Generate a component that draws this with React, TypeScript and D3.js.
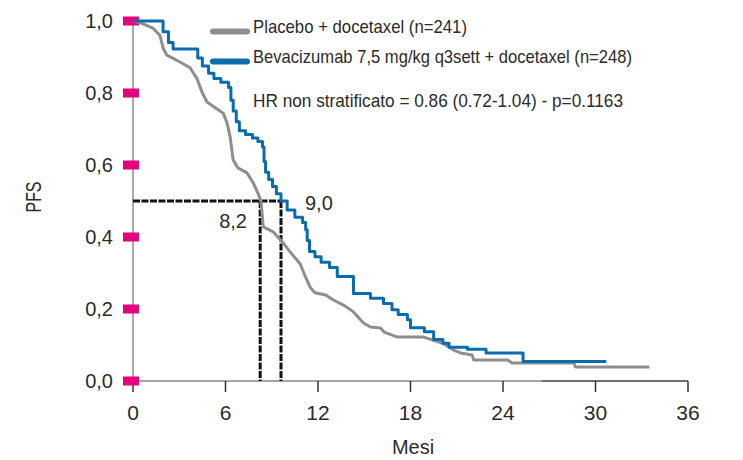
import React from "react";
import * as d3 from "d3";

// ---- data ----
const xTicks = [0, 6, 12, 18, 24, 30, 36];
const yTicks = [0, 0.2, 0.4, 0.6, 0.8, 1.0];

const placeboT = [0, 0.5, 1.3, 1.75, 1.95, 2.2, 3.05, 3.7, 4.15, 4.5, 4.8, 5.85, 6.1, 6.3, 6.5, 6.8, 7.4, 7.8, 8.1, 8.3, 8.45, 9.1, 9.75, 10.2, 10.85, 11.18, 11.5, 11.8, 12.5, 13.0, 13.65, 14.3, 14.95, 15.4, 16.05, 16.3, 17.15, 18.85, 20.1, 20.8, 21.25, 22.0, 22.1, 24.3, 24.6, 28.6, 28.7, 33.5];
const placeboS = [1.0, 0.995, 0.98, 0.96, 0.925, 0.905, 0.886, 0.87, 0.84, 0.8, 0.775, 0.744, 0.717, 0.678, 0.614, 0.592, 0.578, 0.55, 0.522, 0.5, 0.428, 0.414, 0.383, 0.358, 0.325, 0.29, 0.26, 0.245, 0.239, 0.225, 0.211, 0.192, 0.161, 0.15, 0.147, 0.136, 0.122, 0.122, 0.105, 0.086, 0.078, 0.072, 0.058, 0.058, 0.05, 0.05, 0.039, 0.039];

const bevT = [0, 1.95, 2.3, 2.6, 4.2, 4.5, 4.9, 5.25, 5.7, 6.2, 6.35, 6.5, 6.7, 6.9, 7.3, 7.75, 8.1, 8.4, 8.5, 8.6, 8.8, 9.05, 9.3, 9.6, 10.0, 10.5, 11.0, 11.2, 11.3, 11.45, 11.8, 12.2, 12.75, 13.25, 14.3, 15.4, 16.25, 16.8, 17.2, 17.8, 18.0, 18.9, 19.5, 20.1, 20.5, 21.7, 22.9, 25.3, 30.7];
const bevS = [1.0, 0.97, 0.94, 0.922, 0.897, 0.875, 0.855, 0.84, 0.83, 0.815, 0.78, 0.75, 0.72, 0.695, 0.685, 0.675, 0.665, 0.65, 0.61, 0.58, 0.56, 0.54, 0.52, 0.5, 0.475, 0.455, 0.44, 0.42, 0.39, 0.36, 0.345, 0.33, 0.315, 0.29, 0.243, 0.23, 0.215, 0.198, 0.185, 0.17, 0.148, 0.137, 0.115, 0.105, 0.094, 0.088, 0.078, 0.054, 0.054];

const medianT = [8.25, 9.6];
const medianLabels = ["8,2", "9,0"];
const legendLabels = [
  "Placebo + docetaxel (n=241)",
  "Bevacizumab 7,5 mg/kg q3sett + docetaxel (n=248)",
];
const hrText = "HR non stratificato = 0.86 (0.72-1.04) - p=0.1163";

const GREY = "#8e8e8e";
const BLUE = "#0a6dab";
const TEXT = "#2b2b2b";
const FONT = "'Liberation Sans', Arial, sans-serif";

export default function App() {
  const x = d3.scaleLinear().domain([0, 36]).range([133, 688]);
  const y = d3.scaleLinear().domain([0, 1]).range([381, 21]);

  const placebo = placeboT.map((t, i) => [t, placeboS[i]] as [number, number]);
  const bev = bevT.map((t, i) => [t, bevS[i]] as [number, number]);

  const lineLin = d3.line<[number, number]>().x((d) => x(d[0])).y((d) => y(d[1]));
  const lineStep = d3
    .line<[number, number]>()
    .x((d) => x(d[0]))
    .y((d) => y(d[1]))
    .curve(d3.curveStepAfter);

  const fmt = (v: number) => d3.format(".1f")(v).replace(".", ",");

  return (
    <svg
      width={743}
      height={460}
      style={{ position: "absolute", left: 0, top: 0, background: "#fff" }}
      fontFamily={FONT}
    >
      {/* axes */}
      <line x1={x(0)} x2={x(26.5)} y1={y(0)} y2={y(0)} stroke="#a6a6a6" strokeWidth={2} />
      <line x1={x(26.5)} x2={x(36)} y1={y(0)} y2={y(0)} stroke="#6e6e6e" strokeWidth={2} />
      <line x1={x(0)} x2={x(0)} y1={y(1)} y2={y(0)} stroke="#ababab" strokeWidth={2} />

      {xTicks.map((t) => (
        <g key={"xt" + t}>
          <line x1={x(t)} x2={x(t)} y1={y(0)} y2={y(0) + 11} stroke="#333" strokeWidth={1.5} />
          <text x={x(t)} y={420} textAnchor="middle" fontSize={21} fill={TEXT}>
            {t}
          </text>
        </g>
      ))}

      {yTicks.map((v) => (
        <g key={"yt" + v}>
          <rect x={x(0) - 10} y={y(v) - 4.5} width={16} height={9} fill="#e5007d" />
          <text x={113} y={y(v) + 7} textAnchor="end" fontSize={20} fill={TEXT}>
            {fmt(v)}
          </text>
        </g>
      ))}

      <text
        transform={`translate(41,197) rotate(-90)`}
        textAnchor="middle"
        fontSize={22}
        fill={TEXT}
        textLength={31}
        lengthAdjust="spacingAndGlyphs"
      >
        PFS
      </text>
      <text x={413} y={454} textAnchor="middle" fontSize={20} fill={TEXT}>
        Mesi
      </text>

      {/* median guide lines */}
      <line x1={x(0)} x2={x(medianT[1]) + 1} y1={y(0.5)} y2={y(0.5)} stroke="#111" strokeWidth={3} strokeDasharray="7 1.5" />
      {medianT.map((m, i) => (
        <line key={"m" + i} x1={x(m)} x2={x(m)} y1={y(0.5)} y2={y(0)} stroke="#111" strokeWidth={3} strokeDasharray="7 1.5" />
      ))}
      <text x={247} y={228} textAnchor="end" fontSize={20} fill={TEXT}>
        {medianLabels[0]}
      </text>
      <text x={305} y={210} textAnchor="start" fontSize={20} fill={TEXT}>
        {medianLabels[1]}
      </text>

      {/* curves */}
      <path d={lineLin(placebo) || ""} fill="none" stroke={GREY} strokeWidth={3} strokeLinejoin="round" />
      <path d={lineStep(bev) || ""} fill="none" stroke={BLUE} strokeWidth={3} strokeLinejoin="round" />

      {/* legend */}
      <line x1={213} x2={247} y1={31.5} y2={31.5} stroke={GREY} strokeWidth={6} strokeLinecap="round" />
      <line x1={213} x2={247} y1={61.5} y2={61.5} stroke={BLUE} strokeWidth={6} strokeLinecap="round" />
      <text x={253} y={33} fontSize={19} fill={TEXT} textLength={214} lengthAdjust="spacingAndGlyphs">
        {legendLabels[0]}
      </text>
      <text x={253} y={63} fontSize={19} fill={TEXT} textLength={379} lengthAdjust="spacingAndGlyphs">
        {legendLabels[1]}
      </text>
      <text x={253} y={107} fontSize={19} fill={TEXT} textLength={370} lengthAdjust="spacingAndGlyphs">
        {hrText}
      </text>
    </svg>
  );
}
